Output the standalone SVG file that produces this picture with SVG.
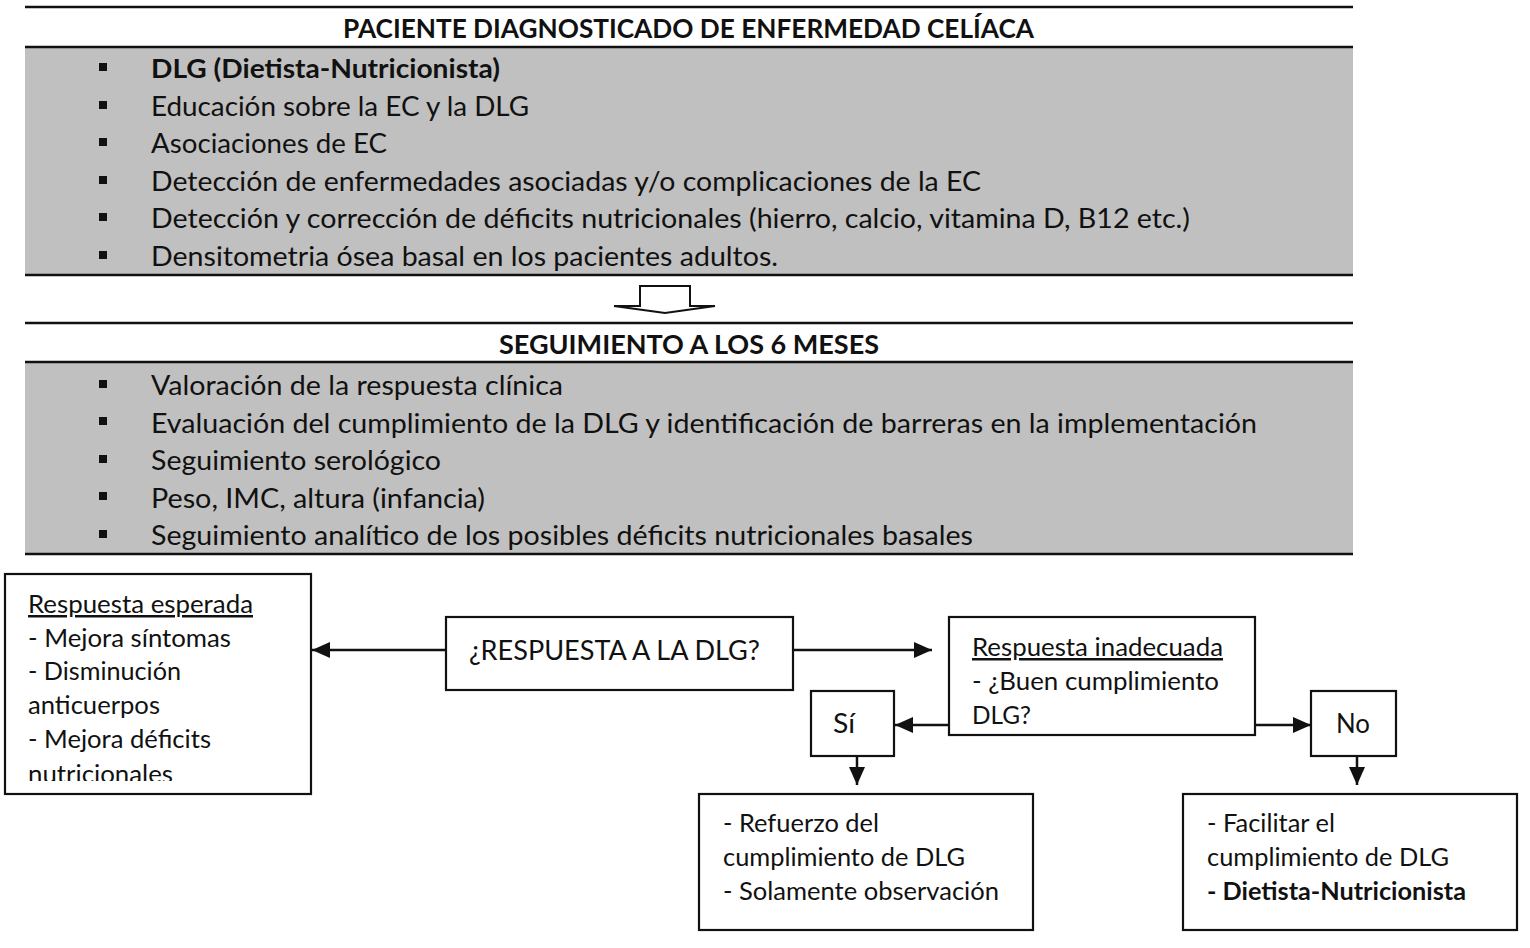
<svg xmlns="http://www.w3.org/2000/svg" width="1530" height="948" viewBox="0 0 1530 948">
<style>
text{font-family:Lato,"Liberation Sans",sans-serif;fill:#111;}
.b{font-size:27px;}
.t{font-size:27px;font-weight:bold;}
.s{font-size:25px;}
.c{font-size:27px;}
.hl{stroke:#111;stroke-width:2.5;}
.gray{fill:#c0c0c0;}
.box{fill:#fff;stroke:#111;stroke-width:2.2;}
.con{stroke:#111;stroke-width:2.5;fill:none;}
.bul{fill:#111;}
</style>
<defs>
<marker id="ah" markerUnits="userSpaceOnUse" markerWidth="20" markerHeight="18" refX="18" refY="8" orient="auto">
<path d="M0,0 L18,8 L0,16 Z" fill="#111"/>
</marker>
<clipPath id="clipL"><rect x="0" y="574" width="320" height="207"/></clipPath>
</defs>
<rect width="1530" height="948" fill="#fff"/>

<g id="section1">
<line class="hl" x1="25" y1="7" x2="1353" y2="7"/>
<text class="t" x="343" y="38" textLength="691" lengthAdjust="spacingAndGlyphs">PACIENTE DIAGNOSTICADO DE ENFERMEDAD CELÍACA</text>
<rect class="gray" x="25" y="47" width="1328" height="228"/>
<line class="hl" x1="25" y1="47" x2="1353" y2="47"/>
<line class="hl" x1="25" y1="275" x2="1353" y2="275"/>
<rect class="bul" x="99" y="63" width="8" height="8"/>
<rect class="bul" x="99" y="101" width="8" height="8"/>
<rect class="bul" x="99" y="138" width="8" height="8"/>
<rect class="bul" x="99" y="176" width="8" height="8"/>
<rect class="bul" x="99" y="213" width="8" height="8"/>
<rect class="bul" x="99" y="251" width="8" height="8"/>
<text class="b" x="151" y="78" font-weight="bold" textLength="349" lengthAdjust="spacingAndGlyphs">DLG (Dietista-Nutricionista)</text>
<text class="b" x="151" y="115.5" textLength="378" lengthAdjust="spacingAndGlyphs">Educación sobre la EC y la DLG</text>
<text class="b" x="151" y="153" textLength="236" lengthAdjust="spacingAndGlyphs">Asociaciones de EC</text>
<text class="b" x="151" y="190.5" textLength="830" lengthAdjust="spacingAndGlyphs">Detección de enfermedades asociadas y/o complicaciones de la EC</text>
<text class="b" x="151" y="228" textLength="1039" lengthAdjust="spacingAndGlyphs">Detección y corrección de déficits nutricionales (hierro, calcio, vitamina D, B12 etc.)</text>
<text class="b" x="151" y="265.5" textLength="627" lengthAdjust="spacingAndGlyphs">Densitometria ósea basal en los pacientes adultos.</text>
</g>

<g id="blockArrow">
<polygon points="640,286 690,286 690,306 715,306 665,313 614,306 640,306" fill="#fff" stroke="#111" stroke-width="2"/>
</g>

<g id="section2">
<line class="hl" x1="25" y1="323" x2="1353" y2="323"/>
<text class="t" x="499" y="354" textLength="380" lengthAdjust="spacingAndGlyphs">SEGUIMIENTO A LOS 6 MESES</text>
<rect class="gray" x="25" y="362" width="1328" height="192"/>
<line class="hl" x1="25" y1="362" x2="1353" y2="362"/>
<line class="hl" x1="25" y1="554" x2="1353" y2="554"/>
<rect class="bul" x="99" y="380" width="8" height="8"/>
<rect class="bul" x="99" y="417" width="8" height="8"/>
<rect class="bul" x="99" y="455" width="8" height="8"/>
<rect class="bul" x="99" y="492" width="8" height="8"/>
<rect class="bul" x="99" y="530" width="8" height="8"/>
<text class="b" x="151" y="395" textLength="412" lengthAdjust="spacingAndGlyphs">Valoración de la respuesta clínica</text>
<text class="b" x="151" y="432.5" textLength="1106" lengthAdjust="spacingAndGlyphs">Evaluación del cumplimiento de la DLG y identificación de barreras en la implementación</text>
<text class="b" x="151" y="470" textLength="290" lengthAdjust="spacingAndGlyphs">Seguimiento serológico</text>
<text class="b" x="151" y="507.5" textLength="334" lengthAdjust="spacingAndGlyphs">Peso, IMC, altura (infancia)</text>
<text class="b" x="151" y="545" textLength="822" lengthAdjust="spacingAndGlyphs">Seguimiento analítico de los posibles déficits nutricionales basales</text>
</g>

<g id="connectors">
<line class="con" x1="446" y1="650" x2="312" y2="650" marker-end="url(#ah)"/>
<line class="con" x1="793" y1="650" x2="932" y2="650" marker-end="url(#ah)"/>
<line class="con" x1="949" y1="725" x2="895" y2="725" marker-end="url(#ah)"/>
<line class="con" x1="1255" y1="725" x2="1311" y2="725" marker-end="url(#ah)"/>
<line class="con" x1="857" y1="756" x2="857" y2="785" marker-end="url(#ah)"/>
<line class="con" x1="1357" y1="756" x2="1357" y2="785" marker-end="url(#ah)"/>
</g>

<g id="respuestaEsperada">
<rect class="box" x="5" y="574" width="306" height="220"/>
<text class="s" x="28" y="613" text-decoration="underline" textLength="225" lengthAdjust="spacingAndGlyphs">Respuesta esperada</text>
<text class="s" x="28" y="646.5" textLength="203" lengthAdjust="spacingAndGlyphs">- Mejora síntomas</text>
<text class="s" x="28" y="680" textLength="153" lengthAdjust="spacingAndGlyphs">- Disminución</text>
<text class="s" x="28" y="714" textLength="132" lengthAdjust="spacingAndGlyphs">anticuerpos</text>
<text class="s" x="28" y="747.5" textLength="183" lengthAdjust="spacingAndGlyphs">- Mejora déficits</text>
<text class="s" x="28" y="783" textLength="145" lengthAdjust="spacingAndGlyphs" clip-path="url(#clipL)">nutricionales</text>
</g>

<g id="pregunta">
<rect class="box" x="446" y="617" width="347" height="73"/>
<text class="c" x="469" y="660" textLength="291" lengthAdjust="spacingAndGlyphs">¿RESPUESTA A LA DLG?</text>
</g>

<g id="respuestaInadecuada">
<rect class="box" x="949" y="617" width="306" height="118"/>
<text class="s" x="972" y="656" text-decoration="underline" textLength="251" lengthAdjust="spacingAndGlyphs">Respuesta inadecuada</text>
<text class="s" x="972" y="690" textLength="247" lengthAdjust="spacingAndGlyphs">- ¿Buen cumplimiento</text>
<text class="s" x="972" y="724" textLength="59" lengthAdjust="spacingAndGlyphs">DLG?</text>
</g>

<g id="si">
<rect class="box" x="811" y="691" width="83" height="65"/>
<text class="c" x="833" y="733" textLength="22" lengthAdjust="spacingAndGlyphs">Sí</text>
</g>

<g id="no">
<rect class="box" x="1311" y="691" width="85" height="65"/>
<text class="c" x="1336" y="733" textLength="34" lengthAdjust="spacingAndGlyphs">No</text>
</g>

<g id="refuerzo">
<rect class="box" x="699" y="794" width="334" height="136"/>
<text class="s" x="723" y="832" textLength="156" lengthAdjust="spacingAndGlyphs">- Refuerzo del</text>
<text class="s" x="723" y="866" textLength="242" lengthAdjust="spacingAndGlyphs">cumplimiento de DLG</text>
<text class="s" x="723" y="900" textLength="276" lengthAdjust="spacingAndGlyphs">- Solamente observación</text>
</g>

<g id="facilitar">
<rect class="box" x="1183" y="794" width="334" height="136"/>
<text class="s" x="1207" y="832" textLength="128" lengthAdjust="spacingAndGlyphs">- Facilitar el</text>
<text class="s" x="1207" y="866" textLength="242" lengthAdjust="spacingAndGlyphs">cumplimiento de DLG</text>
<text class="s" x="1207" y="900" font-weight="bold" textLength="259" lengthAdjust="spacingAndGlyphs">- Dietista-Nutricionista</text>
</g>
</svg>
